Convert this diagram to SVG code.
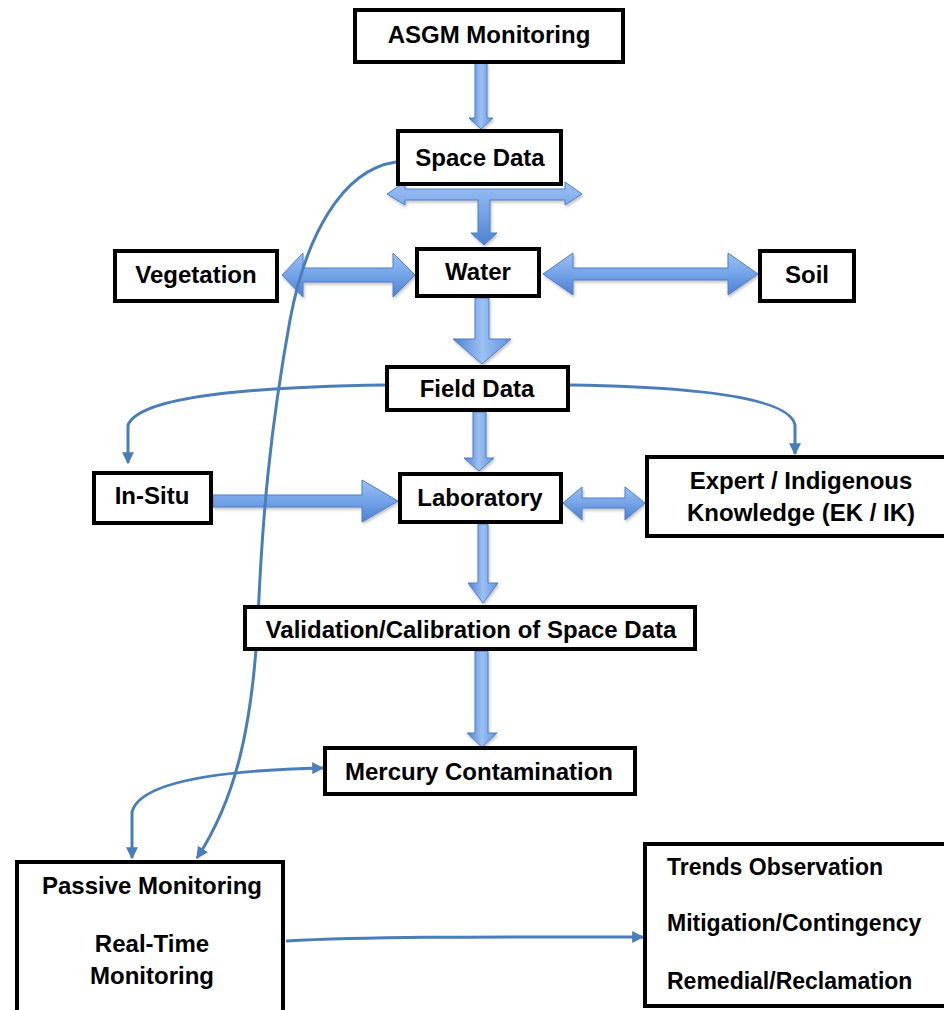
<svg xmlns="http://www.w3.org/2000/svg" width="944" height="1010" viewBox="0 0 944 1010">
<defs>
<linearGradient id="gh" x1="0" y1="0" x2="0" y2="1">
<stop offset="0" stop-color="#9cc0f2"/>
<stop offset="0.5" stop-color="#74a3e8"/>
<stop offset="1" stop-color="#4d80d0"/>
</linearGradient>
<linearGradient id="gv" x1="0" y1="0" x2="1" y2="0">
<stop offset="0" stop-color="#4d80d0"/>
<stop offset="0.5" stop-color="#9cc0f2"/>
<stop offset="1" stop-color="#5f92dc"/>
</linearGradient>
<marker id="ah" viewBox="0 0 10 10" refX="9" refY="5" markerUnits="userSpaceOnUse" markerWidth="12" markerHeight="12" orient="auto-start-reverse">
<path d="M0,0 L10,5 L0,10 z" fill="#4a7ebb"/>
</marker>
<filter id="sh" x="-10%" y="-10%" width="130%" height="130%">
<feDropShadow dx="1" dy="2" stdDeviation="1.5" flood-color="#000" flood-opacity="0.25"/>
</filter>
</defs>
<style>
.box{fill:#fff;stroke:#000;stroke-width:4}
.t{font-family:"Liberation Sans",Arial,sans-serif;font-weight:bold;font-size:24px;fill:#000;text-anchor:middle}
.tl{font-family:"Liberation Sans",Arial,sans-serif;font-weight:bold;font-size:23px;fill:#000}
.ba{stroke:#4f7fc6;stroke-width:1}
.bh{fill:url(#gh)}
.bv{fill:url(#gv)}
.ln{fill:none;stroke:#4a7ebb;stroke-width:3}
</style>

<g id="connectors">
<g filter="url(#sh)">
<polygon class="ba bv" points="475,63 487,63 487,118 493,118 481,129 469,118 475,118"/>
<polygon class="ba bh" points="387,194 405,182 405,189 565,189 565,182 582,194 565,205 565,200 490,200 490,233 497,233 484,245 471,233 478,233 478,200 405,200 405,205"/>
<polygon class="ba bh" points="282,275 303,253 303,268 393,268 393,253 415,275 393,297 393,282 303,282 303,297"/>
<polygon class="ba bh" points="543,274 573,253 573,268 728,268 728,253 758,274 728,295 728,280 573,280 573,295"/>
<polygon class="ba bv" points="475,298 489,298 489,339 511,339 482,364 453,339 475,339"/>
<polygon class="ba bv" points="473,412 486,412 486,458 494,458 479,471 464,458 473,458"/>
<polygon class="ba bh" points="213,495 362,495 362,480 398,501 362,522 362,507 213,507"/>
<polygon class="ba bh" points="563,503 582,487 582,498 625,498 625,487 645,503 625,520 625,508 582,508 582,520"/>
<polygon class="ba bv" points="478,524 488,524 488,583 498,583 483,603 468,583 478,583"/>
<polygon class="ba bv" points="475,651 488,651 488,733 497,733 482,747 467,733 475,733"/>
</g>
<path class="ln" d="M385,385 C260,387 140,395 128,425 L128,463" marker-end="url(#ah)"/>
<path class="ln" d="M570,385 C700,387 790,398 795,425 L795,454" marker-end="url(#ah)"/>
<path class="ln" d="M323,768 C230,770 140,780 132,812 L132,858" marker-start="url(#ah)" marker-end="url(#ah)"/>
<path class="ln" d="M396,162 C340,170 305,240 290,320 C270,430 262,520 258,620 C252,730 235,800 197,858" marker-end="url(#ah)"/>
<path class="ln" d="M286,941 C380,936 520,937 643,937" marker-end="url(#ah)"/>
</g>

<g id="asgm"><rect class="box" x="355" y="10" width="268" height="52"/><text class="t" x="489" y="43">ASGM Monitoring</text></g>
<g id="space"><rect class="box" x="398" y="131" width="163" height="53"/><text class="t" x="480" y="166">Space Data</text></g>
<g id="vegetation"><rect class="box" x="115" y="251" width="162" height="50"/><text class="t" x="196" y="283">Vegetation</text></g>
<g id="water"><rect class="box" x="417" y="249" width="122" height="47"/><text class="t" x="478" y="280">Water</text></g>
<g id="soil"><rect class="box" x="760" y="251" width="94" height="50"/><text class="t" x="807" y="283">Soil</text></g>
<g id="field"><rect class="box" x="387" y="367" width="181" height="43"/><text class="t" x="477" y="397">Field Data</text></g>
<g id="insitu"><rect class="box" x="94" y="473" width="117" height="50"/><text class="t" x="152" y="504">In-Situ</text></g>
<g id="lab"><rect class="box" x="400" y="474" width="161" height="48"/><text class="t" x="480" y="506">Laboratory</text></g>
<g id="expert"><rect class="box" x="647" y="457" width="310" height="79"/><text class="t" x="801" y="489">Expert / Indigenous</text><text class="t" x="801" y="521">Knowledge (EK / IK)</text></g>
<g id="validation"><rect class="box" x="245" y="607" width="450" height="42"/><text class="t" x="471" y="638">Validation/Calibration of Space Data</text></g>
<g id="mercury"><rect class="box" x="325" y="748" width="310" height="46"/><text class="t" x="479" y="780">Mercury Contamination</text></g>
<g id="passive"><rect class="box" x="17" y="862" width="266" height="155"/><text class="t" x="152" y="894">Passive Monitoring</text><text class="t" x="152" y="952">Real-Time</text><text class="t" x="152" y="984">Monitoring</text></g>
<g id="trends"><rect class="box" x="645" y="844" width="310" height="162"/><text class="tl" x="667" y="875">Trends Observation</text><text class="tl" x="667" y="931">Mitigation/Contingency</text><text class="tl" x="667" y="989">Remedial/Reclamation</text></g>
</svg>
